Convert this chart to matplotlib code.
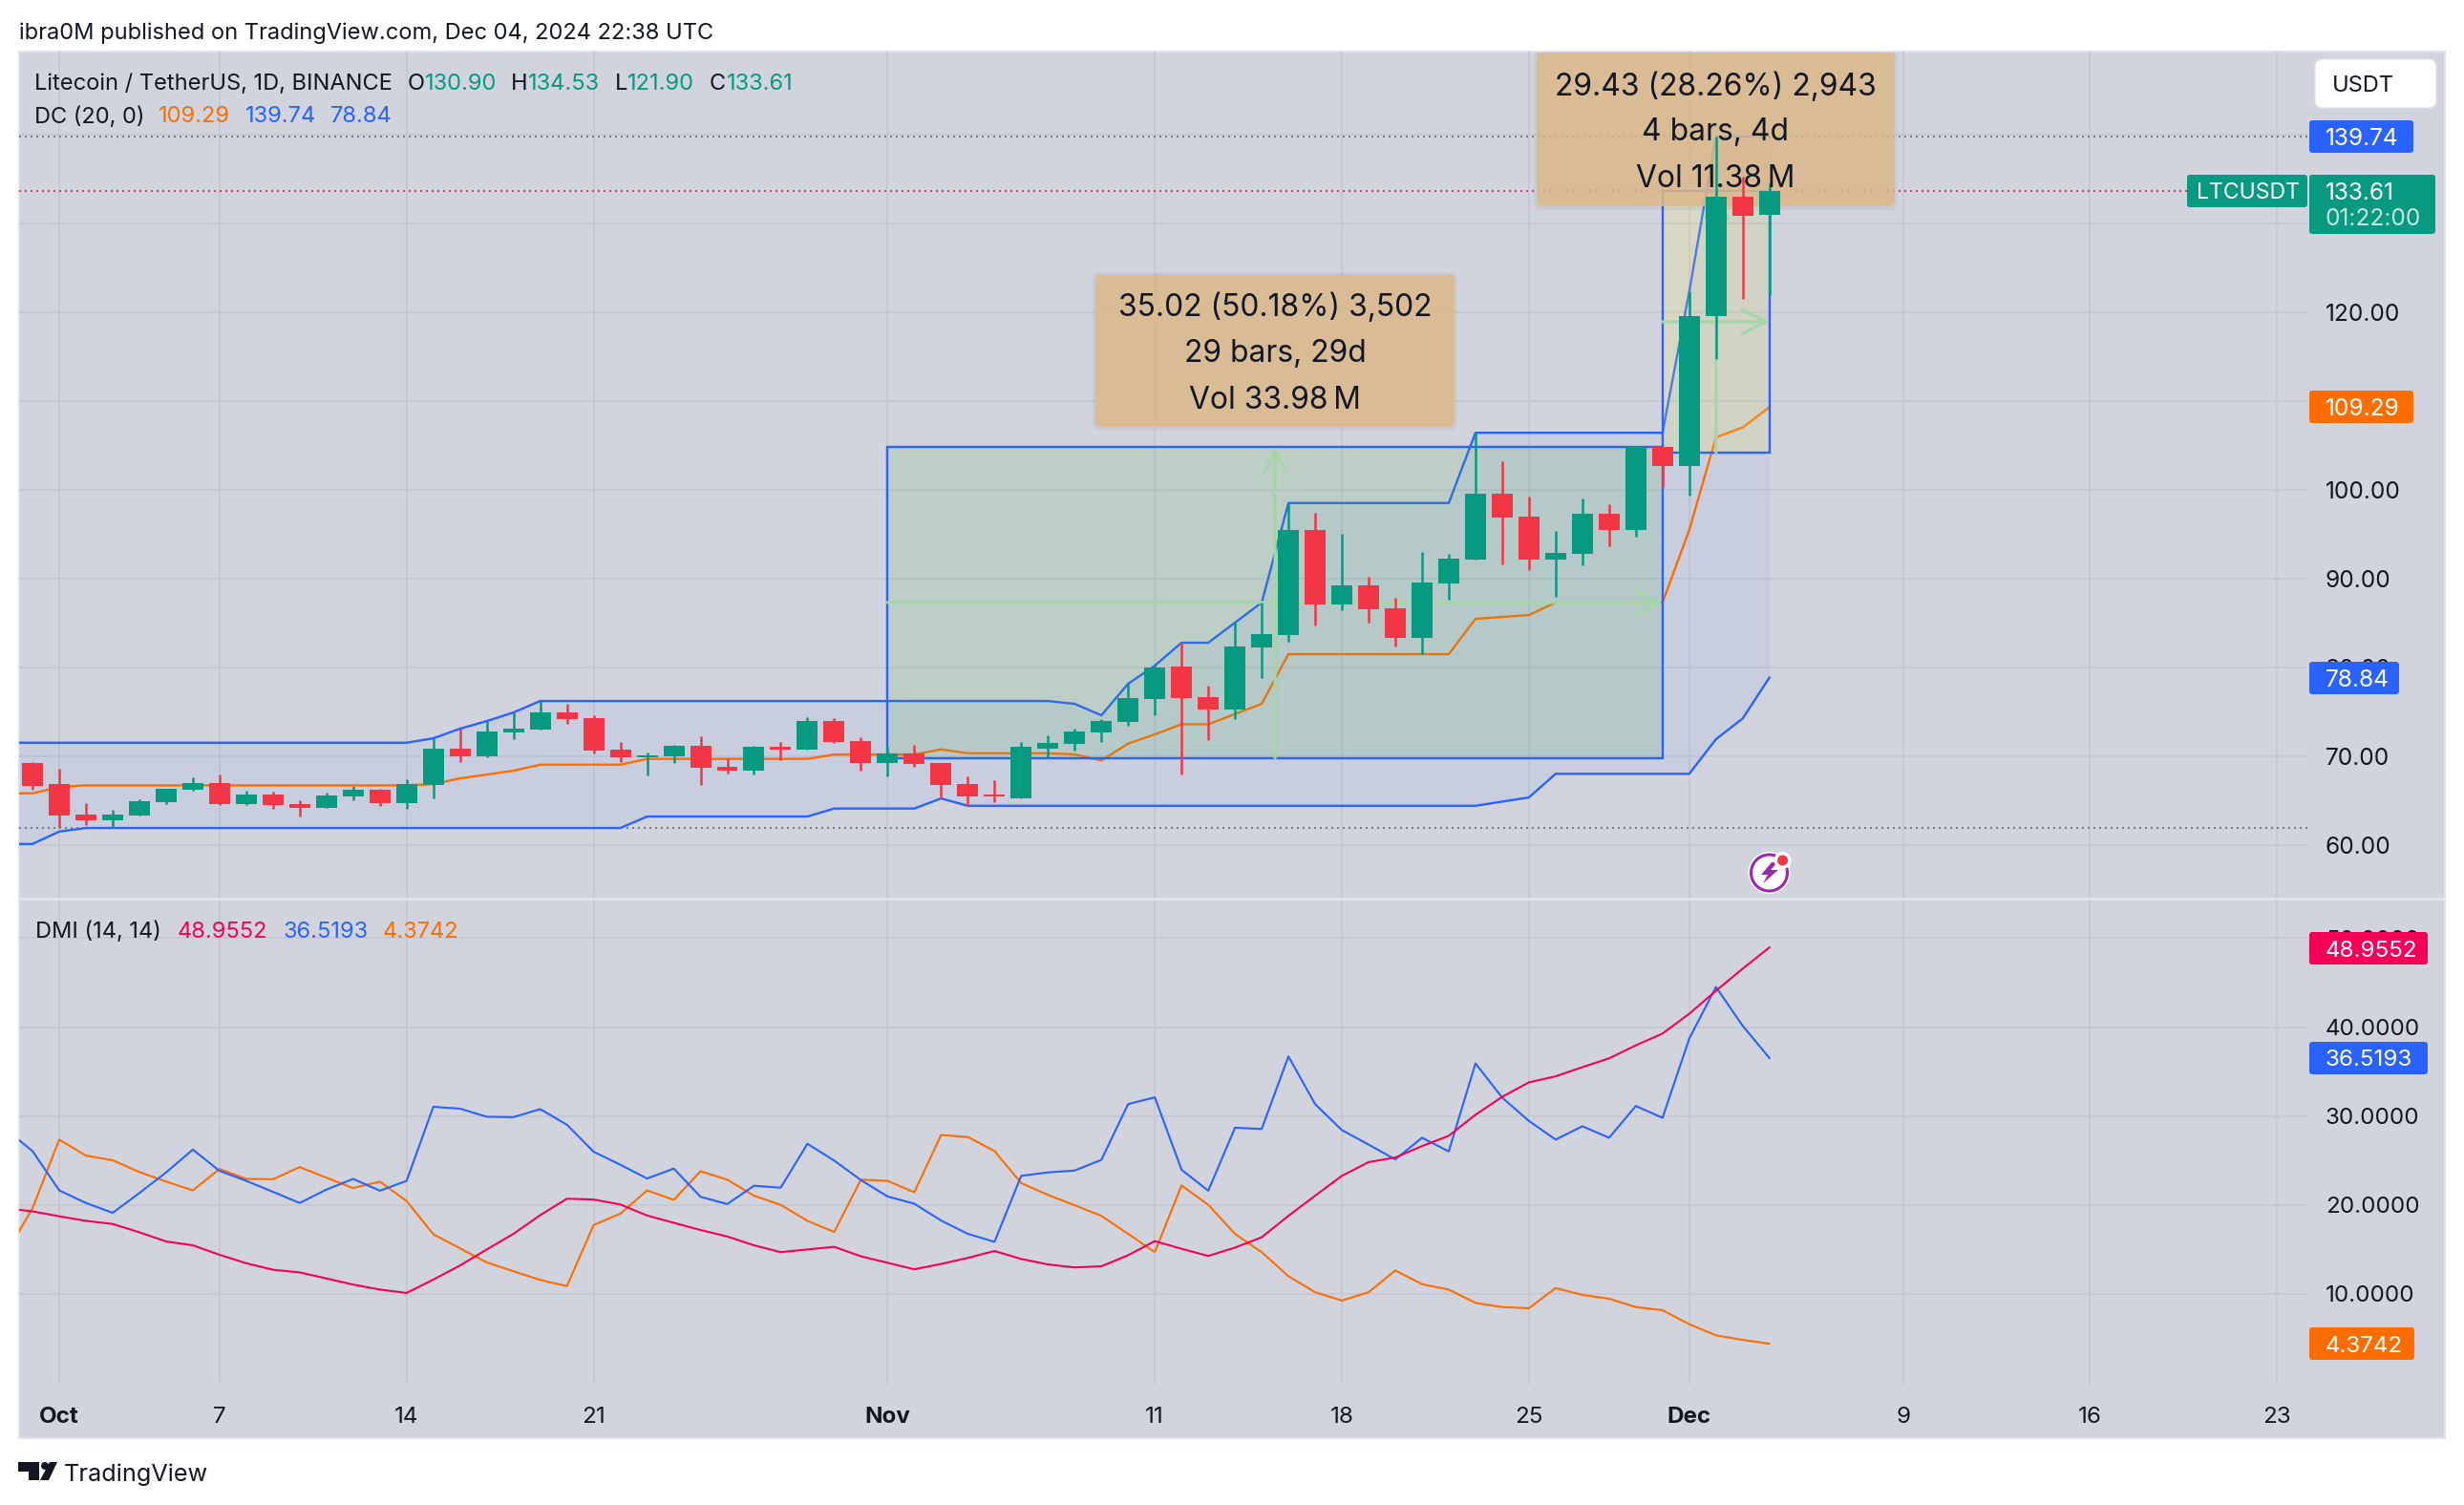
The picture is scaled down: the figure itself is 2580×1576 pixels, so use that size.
import matplotlib
matplotlib.use("Agg")
import numpy as np
import matplotlib.pyplot as plt
from matplotlib.patches import Rectangle, FancyBboxPatch, Circle, Polygon
from matplotlib.transforms import IdentityTransform

plt.rcParams['font.family'] = ['Inter', 'DejaVu Sans']

# daily candles, Sep 30 to Dec 4 (day 0 is Oct 1)
opens = [69.21, 66.85, 63.4, 62.76, 63.33, 64.8, 66.2, 66.95, 64.59, 65.66, 64.59, 64.16, 65.45, 66.2, 64.7, 66.74,
         70.82, 69.96, 72.65, 72.97, 74.91, 74.27, 70.72, 69.86, 69.96, 71.15, 68.78, 68.35, 71.04, 70.72, 73.94, 71.68,
         69.21, 70.29, 69.21, 66.85, 65.66, 65.23, 70.82, 71.36, 72.65, 73.84, 76.42, 80.07, 76.63, 75.23, 82.22, 83.62,
         95.45, 87.06, 89.21, 86.63, 83.3, 89.43, 92.11, 99.53, 96.95, 92.11, 92.76, 97.28, 95.45, 104.8, 102.69, 119.53,
         132.97, 130.90]
highs = [69.32, 68.57, 64.7, 63.94, 65.13, 66.31, 67.6, 67.92, 66.09, 65.99, 65.02, 65.88, 66.63, 66.31, 67.38, 72.0,
         73.08, 73.94, 74.91, 76.2, 75.88, 74.59, 71.58, 70.39, 71.25, 72.22, 69.75, 71.15, 71.58, 74.37, 74.27, 72.11,
         71.08, 71.25, 69.21, 67.71, 67.28, 71.58, 72.33, 73.08, 74.16, 78.14, 80.18, 82.76, 77.92, 85.02, 87.28, 98.49,
         97.38, 95.02, 90.18, 87.81, 92.97, 92.76, 106.4, 103.19, 99.21, 95.34, 99.0, 98.35, 104.8, 104.8, 122.3, 139.74,
         135.2, 134.53]
lows = [66.24, 62.04, 62.2, 61.94, 63.33, 64.59, 66.09, 64.52, 64.48, 64.05, 63.19, 64.16, 65.02, 64.37, 64.05, 65.23,
        69.32, 69.86, 71.9, 72.97, 73.62, 70.29, 69.32, 67.81, 69.21, 66.74, 68.03, 67.92, 69.53, 70.72, 71.47, 68.35,
        67.71, 68.78, 65.23, 64.37, 64.8, 65.23, 69.82, 70.61, 71.58, 73.41, 74.59, 67.92, 71.79, 74.16, 78.78, 82.87,
        84.7, 86.42, 85.02, 82.33, 81.47, 87.6, 92.11, 91.58, 90.93, 87.92, 91.47, 93.62, 94.7, 100.29, 99.35, 114.73,
        121.47, 121.90]
closes = [66.67, 63.33, 62.76, 63.4, 64.9, 66.31, 66.95, 64.59, 65.66, 64.48, 64.16, 65.56, 66.2, 64.7, 66.85, 70.82,
          69.96, 72.76, 73.08, 74.91, 74.16, 70.61, 69.86, 70.07, 71.15, 68.67, 68.35, 71.04, 70.72, 73.94, 71.58, 69.21,
          70.29, 69.1, 66.74, 65.45, 65.45, 71.04, 71.47, 72.76, 73.94, 76.52, 79.96, 76.52, 75.23, 82.33, 83.73, 95.45,
          87.06, 89.21, 86.52, 83.3, 89.53, 92.22, 99.53, 96.85, 92.11, 92.87, 97.28, 95.45, 104.8, 102.65, 119.53, 132.97,
          130.82, 133.61]

# Donchian channel, Sep 29 to Dec 4
dc_upper = [71.5, 71.5, 71.5, 71.5, 71.5, 71.5, 71.5, 71.5, 71.5, 71.5, 71.5, 71.5, 71.5, 71.5, 71.5, 71.5,
            72.0, 73.08, 73.94, 74.91, 76.2, 76.2, 76.2, 76.2, 76.2, 76.2, 76.2, 76.2, 76.2, 76.2, 76.2, 76.2, 76.2,
            76.2, 76.2, 76.2, 76.2, 76.2, 76.2, 76.2, 75.88, 74.59, 78.14, 80.18, 82.76, 82.76, 85.02, 87.28, 98.49, 98.49,
            98.49, 98.49, 98.49, 98.49, 98.49, 106.4, 106.4, 106.4, 106.4, 106.4, 106.4, 106.4, 106.4, 122.3, 139.74,
            139.74, 139.74]
dc_basis = [65.8, 65.8, 66.52, 66.7, 66.7, 66.7, 66.7, 66.7, 66.7, 66.7, 66.7, 66.7, 66.7, 66.7, 66.7, 66.7,
            66.85, 67.49, 67.92, 68.35, 69.03, 69.03, 69.03, 69.03, 69.68, 69.68, 69.68, 69.68, 69.68, 69.68, 69.68, 70.18,
            70.18, 70.18, 70.18, 70.75, 70.32, 70.32, 70.32, 70.32, 70.18, 69.5, 71.4, 72.44, 73.58, 73.58, 74.73, 75.88,
            81.47, 81.47, 81.47, 81.47, 81.47, 81.47, 81.47, 85.45, 85.66, 85.88, 87.29, 87.29, 87.29, 87.29, 87.29,
            95.45, 105.9, 107.0, 109.29]
dc_lower = [60.1, 60.1, 61.5, 61.9, 61.9, 61.9, 61.9, 61.9, 61.9, 61.9, 61.9, 61.9, 61.9, 61.9, 61.9, 61.9, 61.9, 61.9,
            61.9, 61.9, 61.9, 61.9, 61.9, 61.9, 63.19, 63.19, 63.19, 63.19, 63.19, 63.19, 63.19, 64.09, 64.09, 64.09,
            64.09, 65.23, 64.4, 64.4, 64.4, 64.4, 64.4, 64.4, 64.4, 64.4, 64.4, 64.4, 64.4, 64.4, 64.4, 64.4, 64.4, 64.4,
            64.4, 64.4, 64.4, 64.4, 64.87, 65.34, 68.0, 68.0, 68.0, 68.0, 68.0, 68.0, 71.9, 74.23, 78.84]

# DMI, Sep 29 to Dec 4
adx = [19.61, 19.27, 18.71, 18.2, 17.85, 16.91, 15.88, 15.45, 14.38, 13.43, 12.7, 12.4, 11.72, 11.03, 10.47, 10.09, 11.59,
       13.18, 14.98, 16.74, 18.84, 20.69, 20.6, 20.04, 18.8, 17.98, 17.17, 16.44, 15.45, 14.68, 14.98, 15.28, 14.21, 13.48,
       12.75, 13.35, 14.03, 14.81, 13.91, 13.3, 12.96, 13.09, 14.33, 15.92, 15.06, 14.25, 15.19, 16.35, 18.76, 21.03, 23.26,
       24.81, 25.32, 26.61, 27.77, 30.13, 32.15, 33.78, 34.46, 35.49, 36.48, 37.94, 39.27, 41.5, 44.08, 46.57, 48.96]
di_plus = [28.5, 26.05, 21.63, 20.21, 19.1, 21.33, 23.65, 26.22, 23.82, 22.7, 21.46, 20.21, 21.72, 22.92, 21.59, 22.7,
           31.03, 30.82, 29.91, 29.87, 30.77, 29.01, 25.97, 24.51, 22.96, 24.08, 20.9, 20.09, 22.15, 21.93, 26.87, 24.98,
           22.79, 20.94, 20.13, 18.24, 16.74, 15.84, 23.26, 23.65, 23.86, 25.06, 31.33, 32.1, 23.95, 21.59, 28.67, 28.54,
           36.7, 31.33, 28.41, 26.78, 25.11, 27.55, 26.01, 35.92, 32.06, 29.44, 27.34, 28.84, 27.55, 31.12, 29.79, 38.71,
           44.51, 40.13, 36.52]
di_minus = [14.46, 19.61, 27.34, 25.54, 25.02, 23.69, 22.62, 21.63, 24.03, 22.92, 22.88, 24.25, 23.05, 21.89, 22.62, 20.43,
            16.7, 15.11, 13.52, 12.53, 11.55, 10.86, 17.73, 19.01, 21.63, 20.56, 23.78, 22.83, 21.03, 20.0, 18.2, 16.95,
            22.83, 22.7, 21.42, 27.85, 27.64, 26.05, 22.45, 21.12, 19.96, 18.76, 16.74, 14.68, 22.19, 20.0, 16.74, 14.68,
            11.97, 10.17, 9.23, 10.17, 12.62, 11.07, 10.47, 8.97, 8.5, 8.37, 10.64, 9.87, 9.44, 8.5, 8.15, 6.57, 5.32, 4.81,
            4.38]

tick_days = [0, 6, 13, 20, 31, 41, 48, 55, 61, 69, 76, 83]
tick_labels = ["Oct", "7", "14", "21", "Nov", "11", "18", "25", "Dec", "9", "16", "23"]
price_ticks = [60, 70, 80, 90, 100, 110, 120, 130, 140]
dmi_ticks = [10, 20, 30, 40, 50]

# measured ranges (two price range tools)
range1 = (31, 60, 69.78, 104.80)
range2 = (60, 64, 104.18, 133.61)

GREEN = "#089981"
RED = "#F23645"
BLUE = "#2962FF"
ORANGE = "#FF6D00"
PINK = "#F50057"
BG = "#D1D4DC"
GRID = "#C4C7D1"
INK = "#131722"
ARROW = "#A5D6A7"
FS = 17.0
SCALE_FS = 17.6

W, H = 2580, 1576
fig = plt.figure(figsize=(W / 100, H / 100), dpi=100, facecolor="white")
px = IdentityTransform()


def pane(left, top, right, bottom):
    return fig.add_axes([left / W, 1 - bottom / H, (right - left) / W, (bottom - top) / H], facecolor="none")


def text(x, y, s, color=INK, size=FS, ha="left", weight="normal", ax=None, zorder=8):
    owner = ax if ax is not None else fig
    return owner.text(x, H - y, s, color=color, fontsize=size, ha=ha, va="center_baseline", fontweight=weight,
                      transform=px, zorder=zorder)


def tag(x0, y0, x1, y1, color, round=3):
    fig.add_artist(FancyBboxPatch((x0, H - y1), x1 - x0, y1 - y0, boxstyle=f"round,pad=0,rounding_size={round}",
                                  fc=color, ec="none", transform=px, zorder=5))


# chart background
fig.add_artist(Rectangle((20, H - 1506), 2540, 1452, fc=BG, ec="#E0E3EB", lw=1.5, transform=px, zorder=-1))

ax = pane(20, 54, 2416, 941)
ax2 = pane(20, 941, 2416, 1450)

days_all = np.arange(-2, 65)
days = np.arange(-1, 65)
x0 = (20 - 62) / 27.98
x1 = (2416 - 62) / 27.98
for a in (ax, ax2):
    a.set_xlim(x0, x1)
    a.set_axisbelow(True)
    a.grid(True, color=GRID, lw=1.2)
    a.set_xticks(tick_days)
    a.yaxis.tick_right()
    for s in a.spines.values():
        s.set_visible(False)
ax.set_ylim(53.95, 149.32)
ax2.set_ylim(-0.23, 54.45)

ax.set_yticks(price_ticks)
ax.set_yticklabels([f"{t:.2f}" for t in price_ticks])
ax.tick_params(axis="y", length=0, pad=13.5, labelsize=SCALE_FS, labelcolor=INK)
ax.tick_params(axis="x", length=0, labelbottom=False)
ax2.set_yticks(dmi_ticks)
ax2.set_yticklabels([f"{t:.4f}" for t in dmi_ticks])
ax2.tick_params(axis="y", length=0, pad=13.5, labelsize=17.4, labelcolor=INK)
ax2.set_xticklabels(tick_labels)
ax2.tick_params(axis="x", length=0, pad=16.8, labelsize=17.4, labelcolor=INK)
for lab, name in zip(ax2.get_xticklabels(), tick_labels):
    if not name.isdigit():
        lab.set_fontweight("bold")

# high / low / last dotted lines
dots = (0, (1, 2))
ax.axhline(139.74, color="#787B86", lw=1.44, ls=dots, zorder=1.2)
ax.axhline(133.61, color=RED, lw=1.44, ls=dots, zorder=1.2)
ax.axhline(61.94, color="#787B86", lw=1.44, ls=dots, zorder=1.2)

# Donchian channel
ax.fill_between(days_all, dc_lower, dc_upper, color=BLUE, alpha=0.05, lw=0, zorder=1.5)
ax.plot(days_all, dc_upper, color=BLUE, lw=1.7, zorder=2)
ax.plot(days_all, dc_lower, color=BLUE, lw=1.7, zorder=2)
ax.plot(days_all, dc_basis, color=ORANGE, lw=1.7, zorder=2)

# price range tools
ax.add_patch(Rectangle((range1[0], range1[2]), range1[1] - range1[0], range1[3] - range1[2],
                       fc="#4CAF50", alpha=0.15, ec="none", zorder=3))
ax.add_patch(Rectangle((range2[0], range2[2]), range2[1] - range2[0], range2[3] - range2[2],
                       fc="#FDEA57", alpha=0.18, ec="none", zorder=3))
for r in (range1, range2):
    ax.add_patch(Rectangle((r[0], r[2]), r[1] - r[0], r[3] - r[2], fc="none", ec=BLUE, lw=1.7, zorder=3.2))
    xm = (r[0] + r[1]) / 2
    ym = (r[2] + r[3]) / 2
    style = dict(arrowstyle="->,head_length=0.9,head_width=0.45", color=ARROW, lw=2.3, shrinkA=0, shrinkB=0,
                 mutation_scale=20)
    ax.annotate("", xy=(r[1], ym), xytext=(r[0], ym), arrowprops=style, zorder=3.4)
    ax.annotate("", xy=(xm, r[3]), xytext=(xm, r[2]), arrowprops=style, zorder=3.4)

# measure labels
for (lx0, ly0, lx1, ly1) in [(1147, 287, 1523, 447), (1609, 55, 1984, 216)]:
    ax.add_patch(FancyBboxPatch((lx0 - 3, H - ly1 - 4), lx1 - lx0 + 6, ly1 - ly0 + 6,
                                boxstyle="round,pad=0,rounding_size=8", fc="black", alpha=0.04, ec="none",
                                transform=px, zorder=3.9))
    ax.add_patch(FancyBboxPatch((lx0, H - ly1), lx1 - lx0, ly1 - ly0, boxstyle="round,pad=0,rounding_size=6",
                                fc="#DDBA8A", alpha=0.85, ec="none", transform=px, zorder=4))

# candles
opens_a = np.array(opens)
closes_a = np.array(closes)
colors = [GREEN if c >= o else RED for o, c in zip(opens, closes)]
ax.vlines(days, lows, highs, colors=colors, lw=1.8, zorder=5)
ax.bar(days, np.abs(closes_a - opens_a), bottom=np.minimum(opens_a, closes_a), width=0.786, color=colors, lw=0, zorder=5.1)

for y, s in zip((319, 367, 416), ("35.02 (50.18%) 3,502", "29 bars, 29d", "Vol 33.98\u2009M")):
    text(1335, y, s, size=22.9, ha="center", ax=ax, zorder=6)
for y, s in zip((88, 135, 184), ("29.43 (28.26%) 2,943", "4 bars, 4d", "Vol 11.38\u2009M")):
    text(1796, y, s, size=22.9, ha="center", ax=ax, zorder=6)

# DMI
ax2.plot(days_all, di_minus, color=ORANGE, lw=1.5, zorder=2)
ax2.plot(days_all, di_plus, color=BLUE, lw=1.5, zorder=2.1)
ax2.plot(days_all, adx, color=PINK, lw=1.5, zorder=2.2)

# pane separator
fig.add_artist(Rectangle((20, H - 942.5), 2540, 3, fc="#E0E3EB", ec="none", transform=px, zorder=1))

# header and legends
text(20, 32, "ibra0M published on TradingView.com, Dec 04, 2024 22:38 UTC")
text(36, 86, "Litecoin / TetherUS, 1D, BINANCE")
for x, s, c in [(427, "O", INK), (445, "130.90", GREEN), (535, "H", INK), (553, "134.53", GREEN),
                (644, "L", INK), (657, "121.90", GREEN), (743, "C", INK), (761, "133.61", GREEN)]:
    text(x, 86, s, color=c)
text(36, 120, "DC (20, 0)")
for x, s, c in [(166, "109.29", ORANGE), (257, "139.74", BLUE), (346, "78.84", BLUE)]:
    text(x, 120, s, color=c)
text(37, 973, "DMI (14, 14)")
for x, s, c in [(186, "48.9552", PINK), (296, "36.5193", BLUE), (401, "4.3742", ORANGE)]:
    text(x, 973, s, color=c)

# USDT button
fig.add_artist(FancyBboxPatch((2424, H - 113), 127, 51, boxstyle="round,pad=0,rounding_size=8", fc="white",
                              ec="#E0E3EB", lw=1, transform=px, zorder=5))
text(2442, 88, "USDT")

# price scale tags
tag(2418, 126, 2527, 160, BLUE)
text(2435, 143, "139.74", color="white", size=SCALE_FS)
tag(2290, 183, 2416, 217, GREEN)
text(2300, 200, "LTCUSDT", color="white", size=16.6)
tag(2418, 183, 2550, 245, GREEN)
text(2435, 200, "133.61", color="white", size=SCALE_FS)
text(2435, 227, "01:22:00", color="#C6E5DF", size=SCALE_FS)
tag(2418, 409, 2527, 443, ORANGE)
text(2435, 426, "109.29", color="white", size=SCALE_FS)
tag(2418, 693, 2512, 727, BLUE)
text(2435, 710, "78.84", color="white", size=SCALE_FS)
tag(2418, 976, 2542, 1010, PINK)
text(2435, 993, "48.9552", color="white", size=17.4)
tag(2418, 1091, 2542, 1125, BLUE)
text(2435, 1108, "36.5193", color="white", size=17.4)
tag(2418, 1390, 2528, 1424, ORANGE)
text(2435, 1407, "4.3742", color="white", size=17.4)

# earnings icon
fig.add_artist(Circle((1852.5, H - 914), 22, fc="white", ec="none", transform=px, zorder=5))
fig.add_artist(Circle((1852.5, H - 914), 19, fc="none", ec="#9C27B0", lw=2.2, transform=px, zorder=5.1))
bolt = [(1855, 903), (1844, 916), (1851, 916), (1846, 925), (1862, 911), (1854, 911), (1861, 903)]
fig.add_artist(Polygon([(x, H - y) for x, y in bolt], fc="#9C27B0", ec="none", transform=px, zorder=5.2))
fig.add_artist(Circle((1866.5, H - 901), 9, fc="white", ec="none", transform=px, zorder=5.3))
fig.add_artist(Circle((1866.5, H - 901), 5.5, fc=RED, ec="none", transform=px, zorder=5.4))

# TradingView logo
logo_t = [(19, 1531), (41, 1531), (41, 1550), (30, 1550), (30, 1541), (19, 1541)]
logo_s = [(52, 1531), (60, 1531), (51, 1550), (42, 1550)]
fig.add_artist(Polygon([(x, H - y) for x, y in logo_t], fc=INK, ec="none", transform=px, zorder=5))
fig.add_artist(Polygon([(x, H - y) for x, y in logo_s], fc=INK, ec="none", transform=px, zorder=5))
fig.add_artist(Circle((47, H - 1535), 4, fc=INK, ec="none", transform=px, zorder=5))
text(67, 1542, "TradingView", size=18.2)

fig.savefig("out.png", dpi=100)
